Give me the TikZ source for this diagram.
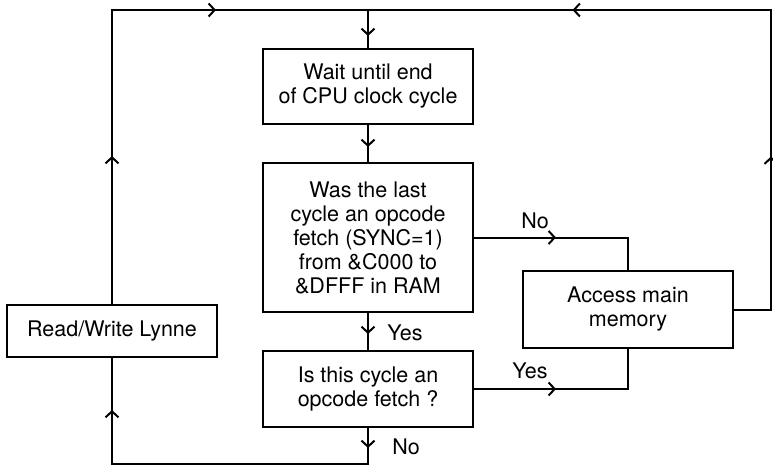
\documentclass[tikz,border=0pt]{standalone}
\usepackage{fontspec}
\setmainfont{TeX Gyre Heros}
\usetikzlibrary{arrows.meta,decorations.markings}

\tikzset{
  box/.style={draw, line width=2pt, fill=white, align=center, inner sep=0pt,
    font=\fontsize{21.5}{24}\selectfont},
  wire/.style={line width=2pt},
  lbl/.style={inner sep=0pt, font=\fontsize{21.5}{24}\selectfont},
  chev/.tip={Straight Barb[length=6pt,width=13pt,line width=2pt]},
  % open chevrons placed along a connector at given distances
  marks/.style={postaction={decorate}, decoration={markings, #1}},
}

\begin{document}
\begin{tikzpicture}[x=1pt, y=-1pt]
\useasboundingbox (0,0) rectangle (773,466);

% process and decision boxes
\node[box, minimum width=210pt, minimum height=75pt]  (wait)   at (368,86.5)  {Wait until end\\of CPU clock cycle};
\node[box, minimum width=210pt, minimum height=149pt] (last)   at (368,237.5) {Was the last\\cycle an opcode\\fetch (SYNC=1)\\from \&C000 to\\\&DFFF in RAM};
\node[box, minimum width=210pt, minimum height=76pt]  (this)   at (368,389)   {Is this cycle an\\opcode fetch ?};
\node[box, minimum width=210pt, minimum height=77pt]  (access) at (628,309.5) {Access main\\memory};
\node[box, minimum width=210pt, minimum height=52pt]  (lynne)  at (112,331)   {Read/Write Lynne};

% corners of the loop-back lines
\coordinate (tl)  at (112,10);
\coordinate (top) at (368,10);
\coordinate (tr)  at (771,10);
\coordinate (er)  at (771,309.5);
\coordinate (bl)  at (112,464);
\coordinate (bm)  at (368,464);

% connectors
\draw[wire, marks={mark=at position 148pt with {\arrow{chev}},
                   mark=at position 398pt with {\arrow{chev}},
                   mark=at position 576pt with {\arrow{chev}}}]
  (lynne.north) -- (tl) -- (top) -- (wait.north);

\draw[wire, marks={mark=at position 190pt with {\arrow{chev}},
                   mark=at position 535pt with {\arrow{chev}}}]
  (access.east) -- (er) -- (tr) -- (top);

\draw[wire, marks={mark=at position 22pt with {\arrow{chev}}}]
  (wait.south) -- (last.north);

\draw[wire, marks={mark=at position 82pt with {\arrow{chev}}}]
  (last.east) -| (access.north);

\draw[wire, marks={mark=at position 21pt with {\arrow{chev}}}]
  (last.south) -- (this.north);

\draw[wire, marks={mark=at position 82pt with {\arrow{chev}}}]
  (this.east) -| (access.south);

\draw[wire, marks={mark=at position 20pt with {\arrow{chev}},
                   mark=at position 346pt with {\arrow{chev}}}]
  (this.south) -- (bm) -- (bl) -- (lynne.south);

% branch labels
\node[lbl] (no1)  at (535,221)   {No};
\node[lbl] (yes1) at (405,333)   {Yes};
\node[lbl] (yes2) at (530,371)   {Yes};
\node[lbl] (no2)  at (406,447)   {No};
\end{tikzpicture}
\end{document}
